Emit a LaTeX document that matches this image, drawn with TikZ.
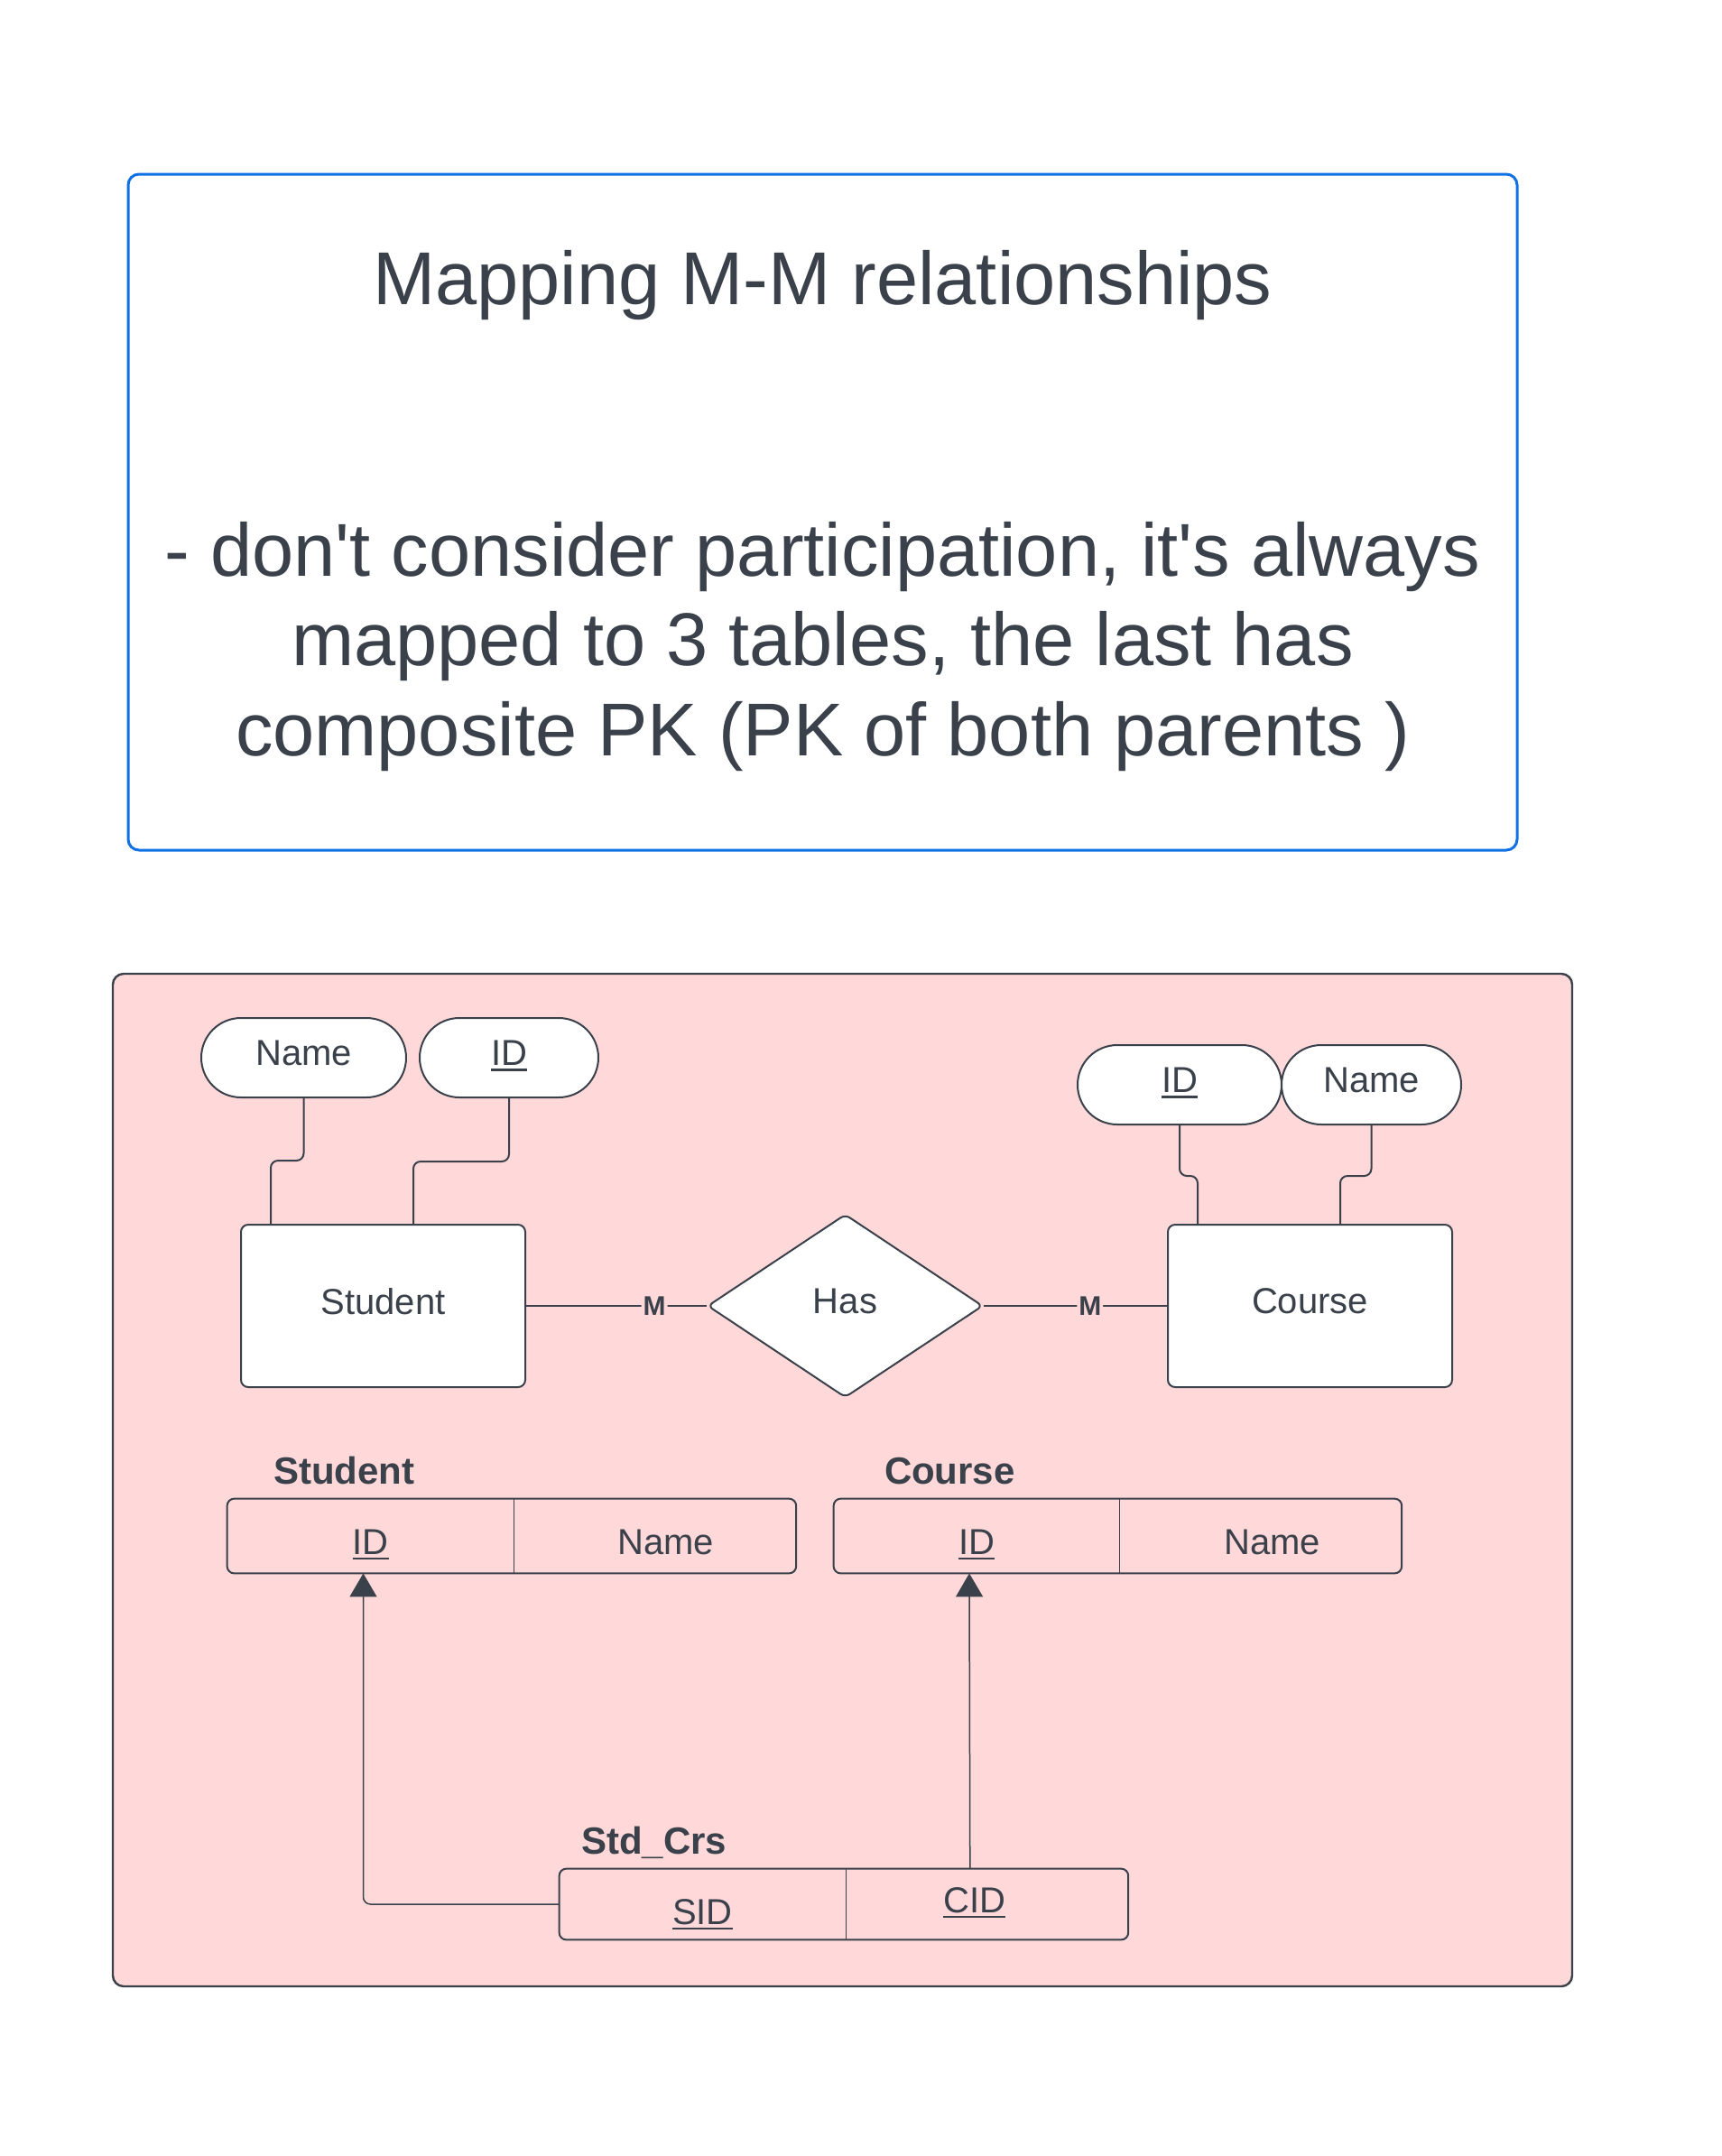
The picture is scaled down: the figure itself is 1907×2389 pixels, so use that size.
\documentclass[tikz,border=0pt]{standalone}
\usepackage{fontspec}
\setmainfont{Liberation Sans}
\usetikzlibrary{positioning, shapes.geometric, arrows.meta, calc}
\definecolor{ink}{HTML}{3A414A}
\definecolor{pinkbg}{HTML}{FFD8D9}
\definecolor{lucidblue}{HTML}{1071E5}
\newcommand{\pkey}[1]{\sbox0{#1}\rlap{\smash{\rule[-3pt]{\wd0}{1.2pt}}}\usebox0}

\begin{document}
\begin{tikzpicture}[x=0.5pt, y=-0.5pt, color=ink, text=ink,
	big/.style={anchor=base, inner sep=0, font=\fontsize{41.5pt}{50pt}\selectfont},
	attr/.style={draw, fill=white, line width=1pt, rounded corners=22pt, minimum width=#1, minimum height=44pt, inner sep=0, text depth=5pt, font=\fontsize{20pt}{24pt}\selectfont},
	entity/.style={draw, fill=white, line width=1pt, rounded corners=4pt, minimum width=157.5pt, minimum height=90pt, inner sep=0, text depth=5pt, font=\fontsize{20pt}{24pt}\selectfont},
	rel/.style={diamond, aspect=1.5, draw, fill=white, line width=1pt, rounded corners=3pt, minimum width=152.5pt, minimum height=101.5pt, inner sep=0, text depth=5pt, font=\fontsize{20pt}{24pt}\selectfont},
	mlab/.style={fill=pinkbg, inner sep=1pt, font=\bfseries\fontsize{15pt}{18pt}\selectfont},
	conn/.style={line width=1pt, rounded corners=4pt},
	cell/.style={minimum width=#1, minimum height=41pt, inner sep=0, text height=20pt, text depth=0pt, font=\fontsize{20pt}{24pt}\selectfont},
	thead/.style={anchor=west, inner sep=0, font=\bfseries\fontsize{21pt}{25pt}\selectfont},
	tbl/.style={line width=1pt, rounded corners=4pt},
	fk/.style={line width=0.75pt, rounded corners=4pt, -{Triangle[width=15pt,length=13pt]}}]

	\useasboundingbox (0,0) rectangle (1907,2389);
	\fill[white] (0,0) rectangle (1907,2389);

	% note box
	\draw[lucidblue, line width=1.5pt, rounded corners=6pt, fill=white] (142,193) rectangle (1681,942);
	\node[big] (title) at (911.5,337) {Mapping M-M relationships};
	\node[big] (line1) at (911.5,638) {- don\textquotesingle t consider participation, it\textquotesingle s always};
	\node[big] (line2) at (911.5,737) {mapped to 3 tables, the last has};
	\node[big] (line3) at (911.5,837) {composite PK (PK of both parents )};

	% diagram area
	\draw[ink, fill=pinkbg, line width=1.2pt, rounded corners=6pt] (125,1079) rectangle (1742,2201);

	% ER part
	\node[entity] (student) at (424.5,1447) {Student};
	\node[entity] (course) at (1451.5,1447) {Course};
	\node[rel] (has) at (936.5,1447) {Has};

	\node[attr=113.5pt] (sname) at (336.5,1172) {Name};
	\node[attr=99pt] (sid) at (564,1172) {\pkey{ID}};
	\node[attr=113pt] (cid) at (1307,1202) {\pkey{ID}};
	\node[attr=99.5pt] (cname) at (1519.5,1202) {Name};

	\draw[conn] (sname.south) -- ++(0,69) -| ($(student.north west)+(34,0)$);
	\draw[conn] (sid.south) -- ++(0,70) -| ($(student.north west)+(192,0)$);
	\draw[conn] (cid.south) -- ++(0,56) -| ($(course.north west)+(34,0)$);
	\draw[conn] (cname.south) -- ++(0,56) -| ($(course.north west)+(192,0)$);

	\draw[conn] (student.east) -- node[mlab, pos=0.71] {M} (has.west);
	\draw[conn] (has.east) -- node[mlab, pos=0.58] {M} (course.west);

	% tables
	\node[cell=158.5pt] (stid) at (410.5,1702) {\pkey{ID}};
	\node[cell=156pt, right=0pt of stid] (stname) {\hspace*{12pt}Name};
	\draw[tbl] (stid.north west) rectangle (stname.south east);
	\draw[line width=0.6pt] (stid.north east) -- (stid.south east);
	\node[thead] (sthead) at ($(stid.north west)+(51,-31)$) {Student};

	\node[cell=158pt] (ctid) at (1082,1702) {\pkey{ID}};
	\node[cell=156pt, right=0pt of ctid] (ctname) {\hspace*{13pt}Name};
	\draw[tbl] (ctid.north west) rectangle (ctname.south east);
	\draw[line width=0.6pt] (ctid.north east) -- (ctid.south east);
	\node[thead] (cthead) at ($(ctid.north west)+(56,-31)$) {Course};

	\node[cell=158.5pt, minimum height=39pt] (scsid) at (778.5,2110) {\raisebox{-1.2pt}{\pkey{SID}}};
	\node[cell=156pt, minimum height=39pt, right=0pt of scsid] (sccid) {\hspace*{-14pt}\raisebox{5.3pt}{\pkey{CID}}};
	\draw[tbl] (scsid.north west) rectangle (sccid.south east);
	\draw[line width=0.6pt] (scsid.north east) -- (scsid.south east);
	\node[thead] (schead) at ($(scsid.north west)+(24,-29)$) {Std\_Crs};

	\draw[fk] (scsid.west) -| ($(stid.south)+(-8,0)$);
	\draw[fk] ($(sccid.north)+(-19,0)$) -- ($(ctid.south)+(-8,0)$);

\end{tikzpicture}
\end{document}
